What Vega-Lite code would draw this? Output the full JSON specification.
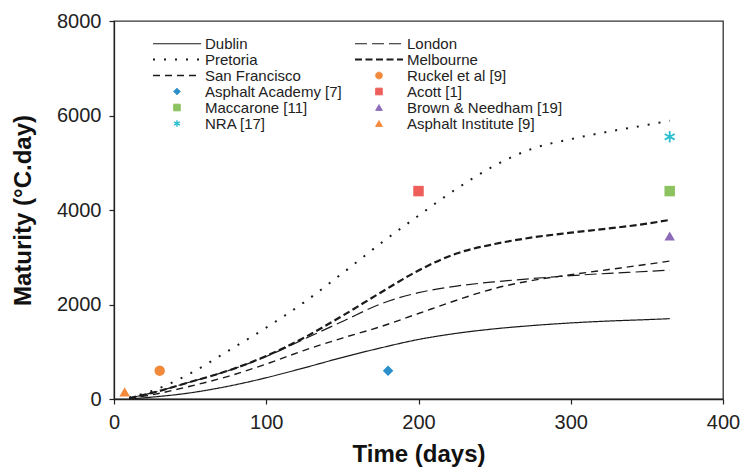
{
  "$schema": "https://vega.github.io/schema/vega-lite/v6.json",
  "width": 609,
  "height": 378,
  "autosize": {"type": "none"},
  "padding": {"left": 114, "top": 21, "right": 22, "bottom": 71},
  "background": "white",
  "config": {
    "font": "Liberation Sans",
    "view": {"stroke": "#333", "strokeWidth": 1.3},
    "axis": {
      "grid": false,
      "domainColor": "#222",
      "domainWidth": 1.3,
      "tickColor": "#222",
      "tickWidth": 1.2,
      "tickSize": 5,
      "labelPadding": 8,
      "labelFont": "Liberation Sans",
      "labelFontSize": 20,
      "labelColor": "#222",
      "labelFlush": false,
      "labelOverlap": false,
      "titleFont": "Liberation Sans",
      "titleFontSize": 24,
      "titleFontWeight": "bold",
      "titleColor": "#111"
    }
  },
  "datasets": {
    "curves": [
      {"series": "Dublin", "x": 10, "y": 0}, {"series": "Dublin", "x": 25, "y": 40}, {"series": "Dublin", "x": 50, "y": 130}, {"series": "Dublin", "x": 75, "y": 270}, {"series": "Dublin", "x": 100, "y": 450}, {"series": "Dublin", "x": 125, "y": 660}, {"series": "Dublin", "x": 150, "y": 880}, {"series": "Dublin", "x": 175, "y": 1080}, {"series": "Dublin", "x": 200, "y": 1260}, {"series": "Dublin", "x": 225, "y": 1390}, {"series": "Dublin", "x": 250, "y": 1485}, {"series": "Dublin", "x": 275, "y": 1555}, {"series": "Dublin", "x": 300, "y": 1610}, {"series": "Dublin", "x": 325, "y": 1650}, {"series": "Dublin", "x": 350, "y": 1680}, {"series": "Dublin", "x": 365, "y": 1700},
      {"series": "London", "x": 10, "y": 20}, {"series": "London", "x": 25, "y": 130}, {"series": "London", "x": 50, "y": 360}, {"series": "London", "x": 75, "y": 600}, {"series": "London", "x": 100, "y": 900}, {"series": "London", "x": 125, "y": 1270}, {"series": "London", "x": 150, "y": 1640}, {"series": "London", "x": 175, "y": 2010}, {"series": "London", "x": 200, "y": 2250}, {"series": "London", "x": 225, "y": 2390}, {"series": "London", "x": 250, "y": 2480}, {"series": "London", "x": 275, "y": 2550}, {"series": "London", "x": 300, "y": 2610}, {"series": "London", "x": 325, "y": 2660}, {"series": "London", "x": 350, "y": 2700}, {"series": "London", "x": 365, "y": 2730},
      {"series": "Pretoria", "x": 10, "y": 30}, {"series": "Pretoria", "x": 25, "y": 170}, {"series": "Pretoria", "x": 50, "y": 540}, {"series": "Pretoria", "x": 75, "y": 1020}, {"series": "Pretoria", "x": 100, "y": 1510}, {"series": "Pretoria", "x": 125, "y": 2050}, {"series": "Pretoria", "x": 150, "y": 2660}, {"series": "Pretoria", "x": 175, "y": 3290}, {"series": "Pretoria", "x": 200, "y": 3880}, {"series": "Pretoria", "x": 225, "y": 4450}, {"series": "Pretoria", "x": 250, "y": 4940}, {"series": "Pretoria", "x": 275, "y": 5300}, {"series": "Pretoria", "x": 300, "y": 5500}, {"series": "Pretoria", "x": 325, "y": 5660}, {"series": "Pretoria", "x": 350, "y": 5800}, {"series": "Pretoria", "x": 365, "y": 5890},
      {"series": "Melbourne", "x": 10, "y": 20}, {"series": "Melbourne", "x": 25, "y": 130}, {"series": "Melbourne", "x": 50, "y": 360}, {"series": "Melbourne", "x": 75, "y": 600}, {"series": "Melbourne", "x": 100, "y": 910}, {"series": "Melbourne", "x": 125, "y": 1300}, {"series": "Melbourne", "x": 150, "y": 1760}, {"series": "Melbourne", "x": 175, "y": 2250}, {"series": "Melbourne", "x": 200, "y": 2720}, {"series": "Melbourne", "x": 225, "y": 3080}, {"series": "Melbourne", "x": 250, "y": 3280}, {"series": "Melbourne", "x": 275, "y": 3420}, {"series": "Melbourne", "x": 300, "y": 3520}, {"series": "Melbourne", "x": 325, "y": 3610}, {"series": "Melbourne", "x": 350, "y": 3710}, {"series": "Melbourne", "x": 365, "y": 3790},
      {"series": "San Francisco", "x": 10, "y": 10}, {"series": "San Francisco", "x": 25, "y": 90}, {"series": "San Francisco", "x": 50, "y": 270}, {"series": "San Francisco", "x": 75, "y": 480}, {"series": "San Francisco", "x": 100, "y": 740}, {"series": "San Francisco", "x": 125, "y": 1030}, {"series": "San Francisco", "x": 150, "y": 1290}, {"series": "San Francisco", "x": 175, "y": 1530}, {"series": "San Francisco", "x": 200, "y": 1810}, {"series": "San Francisco", "x": 225, "y": 2090}, {"series": "San Francisco", "x": 250, "y": 2340}, {"series": "San Francisco", "x": 275, "y": 2510}, {"series": "San Francisco", "x": 300, "y": 2630}, {"series": "San Francisco", "x": 325, "y": 2740}, {"series": "San Francisco", "x": 350, "y": 2850}, {"series": "San Francisco", "x": 365, "y": 2920}
    ],
    "obs": [
      {"series": "Ruckel et al [9]", "x": 30, "y": 600},
      {"series": "Asphalt Academy [7]", "x": 180, "y": 600},
      {"series": "Acott [1]", "x": 200, "y": 4400},
      {"series": "Maccarone [11]", "x": 365, "y": 4400},
      {"series": "Brown & Needham [19]", "x": 365, "y": 3450},
      {"series": "Asphalt Institute [9]", "x": 7, "y": 150}
    ],
    "obs2": [
      {"series": "NRA [17]", "x": 365, "y": 5550}
    ]
  },
  "encoding": {
    "x": {"field": "x", "type": "quantitative", "scale": {"domain": [0, 400], "nice": false, "zero": false}, "axis": {"values": [0, 100, 200, 300, 400], "title": "Time (days)", "titlePadding": 10}},
    "y": {"field": "y", "type": "quantitative", "scale": {"domain": [0, 8000], "nice": false}, "axis": {"values": [0, 2000, 4000, 6000, 8000], "format": "d", "title": "Maturity (°C.day)", "titlePadding": 21}},
    "color": {
      "field": "series", "type": "nominal",
      "scale": {
        "domain": ["Dublin", "Pretoria", "San Francisco", "Asphalt Academy [7]", "Maccarone [11]", "NRA [17]", "London", "Melbourne", "Ruckel et al [9]", "Acott [1]", "Brown & Needham [19]", "Asphalt Institute [9]"],
        "range": ["#1a1a1a", "#1a1a1a", "#1a1a1a", "#2a8fcb", "#8cc360", "#2bbfd0", "#1a1a1a", "#1a1a1a", "#f28a3c", "#ee5f5b", "#8d6bb8", "#f5883b"]
      },
      "legend": {
        "orient": "none", "legendX": 39, "legendY": 15, "columns": 2, "title": null,
        "labelFontSize": 15, "labelFont": "Liberation Sans", "labelColor": "#222",
        "rowPadding": 0, "columnPadding": 7, "padding": 0, "labelLimit": 300,
        "encode": {
          "symbols": {
            "update": {
              "x": {"value": 24},
              "shape": {"signal": "scale('shape', datum.value)"},
              "strokeDash": {"signal": "scale('strokeDash', datum.value)"},
              "size": {"signal": "scale('shape', datum.value) == 'stroke' ? 2304 : 45"},
              "fill": {"signal": "scale('shape', datum.value) == 'stroke' || datum.value == 'NRA [17]' ? 'transparent' : scale('color', datum.value)"},
              "stroke": {"signal": "scale('color', datum.value)"},
              "strokeWidth": {"signal": "scale('strokeWidth', datum.value)"},
              "opacity": {"value": 1}
            }
          },
          "labels": {
            "update": {
              "x": {"value": 52}
            }
          }
        }
      }
    }
  },
  "layer": [
    {
      "data": {"name": "curves"},
      "mark": {"type": "line", "interpolate": "monotone"},
      "encoding": {
        "detail": {"field": "series", "type": "nominal"},
        "strokeDash": {
          "field": "series", "type": "nominal", "legend": null,
          "scale": {
            "domain": ["Dublin", "Pretoria", "San Francisco", "Asphalt Academy [7]", "Maccarone [11]", "NRA [17]", "London", "Melbourne", "Ruckel et al [9]", "Acott [1]", "Brown & Needham [19]", "Asphalt Institute [9]"],
            "range": [[1, 0], [2, 9], [7, 5], [1, 0], [1, 0], [1, 0], [12, 5], [7, 3.5], [1, 0], [1, 0], [1, 0], [1, 0]]
          }
        },
        "strokeWidth": {
          "field": "series", "type": "nominal", "legend": null,
          "scale": {
            "type": "ordinal",
            "domain": ["Dublin", "Pretoria", "San Francisco", "Asphalt Academy [7]", "Maccarone [11]", "NRA [17]", "London", "Melbourne", "Ruckel et al [9]", "Acott [1]", "Brown & Needham [19]", "Asphalt Institute [9]"],
            "range": [1.2, 2, 1.4, 1, 1, 1.4, 1.2, 2.2, 1, 1, 1, 1]
          }
        }
      }
    },
    {
      "data": {"name": "obs"},
      "mark": {"type": "point", "filled": true, "opacity": 1, "size": 110},
      "encoding": {
        "shape": {
          "field": "series", "type": "nominal", "legend": null,
          "scale": {
            "domain": ["Dublin", "Pretoria", "San Francisco", "Asphalt Academy [7]", "Maccarone [11]", "NRA [17]", "London", "Melbourne", "Ruckel et al [9]", "Acott [1]", "Brown & Needham [19]", "Asphalt Institute [9]"],
            "range": ["stroke", "stroke", "stroke", "diamond", "square", "M0,-1L0,1M-0.87,-0.5L0.87,0.5M-0.87,0.5L0.87,-0.5", "stroke", "stroke", "circle", "square", "triangle-up", "triangle-up"]
          }
        }
      }
    },
    {
      "data": {"name": "obs2"},
      "mark": {"type": "point", "filled": false, "opacity": 1, "size": 130, "strokeWidth": 1.8},
      "encoding": {
        "shape": {"field": "series", "type": "nominal", "legend": null}
      }
    }
  ]
}
